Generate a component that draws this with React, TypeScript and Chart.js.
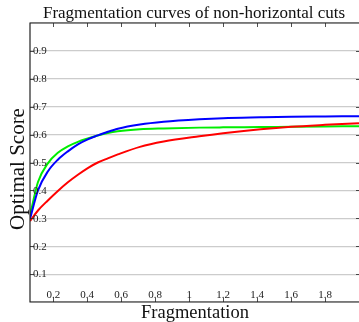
import React, { useEffect, useRef } from "react";
import { Chart, registerables } from "chart.js";

Chart.register(...registerables);

const TITLE = "Fragmentation curves of non-horizontal cuts";
const X_TITLE = "Fragmentation";
const Y_TITLE = "Optimal Score";

const fragmentation = [0.063, 0.11, 0.168, 0.227, 0.286, 0.345, 0.403, 0.462, 0.521, 0.58, 0.71, 0.85, 1.06, 1.2, 1.42, 1.6, 1.8, 2.0];
const greenScores = [0.31, 0.43, 0.497, 0.535, 0.558, 0.574, 0.586, 0.597, 0.606, 0.612, 0.619, 0.622, 0.625, 0.626, 0.627, 0.628, 0.629, 0.63];
const blueScores = [0.298, 0.4, 0.468, 0.51, 0.54, 0.565, 0.583, 0.597, 0.61, 0.621, 0.636, 0.646, 0.655, 0.659, 0.662, 0.664, 0.665, 0.666];
const redScores = [0.29, 0.328, 0.364, 0.398, 0.429, 0.456, 0.48, 0.5, 0.515, 0.529, 0.556, 0.575, 0.594, 0.605, 0.619, 0.628, 0.635, 0.641];

const xTicks = [0.2, 0.4, 0.6, 0.8, 1, 1.2, 1.4, 1.6, 1.8];
const xTickLabels = ["0.2", "0.4", "0.6", "0.8", "1", "1.2", "1.4", "1.6", "1.8"];
const yTicks = [0.1, 0.2, 0.3, 0.4, 0.5, 0.6, 0.7, 0.8, 0.9];
const yTickLabels = ["0.1", "0.2", "0.3", "0.4", "0.5", "0.6", "0.7", "0.8", "0.9"];

const SERIF = "'Liberation Serif', 'DejaVu Serif', serif";

const framePlugin = {
  id: "pgfFrame",
  afterDraw(chart: any) {
    const { ctx, chartArea, width } = chart;
    const { left, top, bottom } = chartArea;
    const right = Math.max(chartArea.right, width + 1);
    const xs = chart.scales.x;
    const ys = chart.scales.y;
    ctx.save();
    // frame (right side lies beyond the canvas edge)
    ctx.strokeStyle = "#222";
    ctx.lineWidth = 1.2;
    ctx.beginPath();
    ctx.moveTo(right, top);
    ctx.lineTo(left, top);
    ctx.lineTo(left, bottom);
    ctx.lineTo(right, bottom);
    ctx.stroke();
    // ticks
    ctx.lineWidth = 0.8;
    const tl = 4;
    ctx.beginPath();
    xTicks.forEach((v) => {
      const px = Math.round(xs.getPixelForValue(v)) + 0.5;
      ctx.moveTo(px, bottom);
      ctx.lineTo(px, bottom - tl);
      ctx.moveTo(px, top);
      ctx.lineTo(px, top + tl);
    });
    yTicks.forEach((v) => {
      const py = Math.round(ys.getPixelForValue(v)) + 0.5;
      ctx.moveTo(left, py);
      ctx.lineTo(left + tl, py);
      ctx.moveTo(right, py);
      ctx.lineTo(right - tl, py);
    });
    ctx.stroke();
    // tick labels
    ctx.fillStyle = "#222";
    ctx.font = `11px ${SERIF}`;
    ctx.textAlign = "left";
    ctx.textBaseline = "middle";
    yTicks.forEach((v, i) => {
      ctx.fillText(yTickLabels[i], left + 3, ys.getPixelForValue(v) + 0.5);
    });
    ctx.textAlign = "center";
    ctx.textBaseline = "alphabetic";
    xTicks.forEach((v, i) => {
      ctx.fillText(xTickLabels[i], xs.getPixelForValue(v), bottom - 4);
    });
    // titles
    ctx.fillStyle = "#111";
    ctx.font = `17px ${SERIF}`;
    ctx.fillText(TITLE, 194, 18);
    ctx.font = `18.5px ${SERIF}`;
    ctx.fillText(X_TITLE, 195, 318);
    ctx.save();
    ctx.translate(23.5, 169);
    ctx.rotate(-Math.PI / 2);
    ctx.font = `21px ${SERIF}`;
    ctx.fillText(Y_TITLE, 0, 0);
    ctx.restore();
    ctx.restore();
  },
};

export default function App() {
  const ref = useRef<HTMLCanvasElement | null>(null);
  useEffect(() => {
    if (!ref.current) return;
    const mk = (data: number[]) => data.map((y, i) => ({ x: fragmentation[i], y }));
    const chart = new Chart(ref.current, {
      type: "line",
      data: {
        datasets: [
          { label: "red", data: mk(redScores), borderColor: "#ff0000", borderWidth: 2, pointRadius: 0, cubicInterpolationMode: "monotone", fill: false },
          { label: "blue", data: mk(blueScores), borderColor: "#0000ff", borderWidth: 2, pointRadius: 0, cubicInterpolationMode: "monotone", fill: false },
          { label: "green", data: mk(greenScores), borderColor: "#00ee00", borderWidth: 2, pointRadius: 0, cubicInterpolationMode: "monotone", fill: false },
        ],
      },
      options: {
        responsive: false,
        animation: false,
        events: [],
        layout: { padding: { left: 30, top: 23, right: -2, bottom: 20 } },
        plugins: { legend: { display: false }, tooltip: { enabled: false }, title: { display: false } },
        scales: {
          x: {
            type: "linear",
            min: 0.063,
            max: 2.0,
            display: false,
          },
          y: {
            type: "linear",
            min: 0,
            max: 1,
            display: true,
            border: { display: false },
            ticks: { display: false, stepSize: 0.1 },
            grid: { color: "#cccccc", lineWidth: 1.2, drawTicks: false },
          },
        },
      },
      plugins: [framePlugin],
    });
    return () => chart.destroy();
  }, []);
  return (
    <div style={{ position: "fixed", left: 0, top: 0, width: 359, height: 322, background: "#fff" }}>
      <canvas ref={ref} width={359} height={322} style={{ display: "block" }} />
    </div>
  );
}
